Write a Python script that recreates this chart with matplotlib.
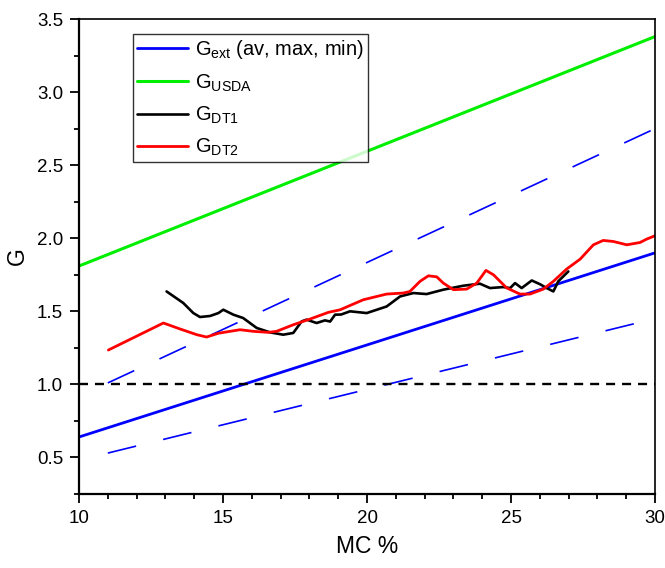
import matplotlib
matplotlib.use('Agg')
import matplotlib.pyplot as plt
from matplotlib.ticker import MultipleLocator

plt.rcParams['font.family'] = ['Liberation Sans', 'DejaVu Sans']
plt.rcParams['mathtext.fontset'] = 'custom'
plt.rcParams['mathtext.rm'] = 'Liberation Sans'
plt.rcParams['lines.scale_dashes'] = False
plt.rcParams['lines.solid_joinstyle'] = 'round'
plt.rcParams['lines.solid_capstyle'] = 'round'

# G_ext: average line and the max/min envelope
mc_ext = [10, 30]
g_ext_av = [0.64, 1.90]
mc_env = [11, 30]
g_ext_max = [1.01, 2.75]
g_ext_min = [0.53, 1.45]

# USDA line
mc_usda = [10, 30]
g_usda = [1.81, 3.38]

# reference level G = 1
mc_ref = [10, 30]
g_ref = [1.0, 1.0]

# DT1 curve
mc_dt1 = [13.04, 13.62, 13.97, 14.20, 14.55, 14.84, 15.01, 15.36, 15.70, 16.17,
          16.63, 17.09, 17.44, 17.73, 17.90, 18.25, 18.54, 18.72, 18.89, 19.10,
          19.41, 19.99, 20.68, 21.15, 21.61, 22.07, 22.65, 23.34, 23.92, 24.27,
          24.73, 24.97, 25.14, 25.37, 25.72, 26.01, 26.24, 26.47, 26.64, 26.99]
g_dt1 = [1.636, 1.557, 1.488, 1.461, 1.468, 1.488, 1.511, 1.477, 1.454, 1.386,
         1.356, 1.340, 1.352, 1.431, 1.443, 1.420, 1.438, 1.430, 1.477, 1.478,
         1.500, 1.488, 1.533, 1.602, 1.625, 1.618, 1.648, 1.675, 1.689, 1.659,
         1.666, 1.659, 1.693, 1.659, 1.711, 1.685, 1.659, 1.636, 1.705, 1.773]

# DT2 curve
mc_dt2 = [11.02, 12.93, 13.51, 14.09, 14.43, 14.84, 15.59, 16.05, 16.57, 16.86,
          17.44, 18.02, 18.66, 19.06, 19.87, 20.68, 21.26, 21.49, 21.84, 22.13,
          22.42, 22.65, 23.00, 23.46, 23.81, 24.13, 24.39, 24.85, 25.31, 25.66,
          26.12, 26.47, 26.93, 27.40, 27.86, 28.20, 28.55, 29.02, 29.48, 29.71,
          30.00]
g_dt2 = [1.235, 1.420, 1.379, 1.340, 1.324, 1.350, 1.374, 1.363, 1.356, 1.363,
         1.408, 1.447, 1.493, 1.510, 1.579, 1.618, 1.625, 1.636, 1.705, 1.743,
         1.736, 1.693, 1.648, 1.652, 1.693, 1.780, 1.750, 1.660, 1.618, 1.618,
         1.652, 1.705, 1.789, 1.857, 1.955, 1.985, 1.978, 1.955, 1.971, 1.994,
         2.017]

fig = plt.figure(figsize=(6.65, 5.68), dpi=100)
ax = fig.add_axes([0.1188, 0.1303, 0.8662, 0.8362])

long_dash = (21, 20)
ax.plot(mc_ext, g_ext_av, color='#0000ff', lw=2.0,
        label=r'G$_{\mathrm{ext}}$ (av, max, min)')
ax.plot(mc_env, g_ext_max, color='#0000ff', lw=1.2, dashes=long_dash)
ax.plot(mc_env, g_ext_min, color='#0000ff', lw=1.2, dashes=long_dash)
ax.plot(mc_usda, g_usda, color='#00ee00', lw=2.2, label=r'G$_{\mathrm{USDA}}$')
ax.plot(mc_dt1, g_dt1, color='black', lw=1.9, label=r'G$_{\mathrm{DT1}}$')
ax.plot(mc_dt2, g_dt2, color='#ff0000', lw=2.0, label=r'G$_{\mathrm{DT2}}$')
ax.plot(mc_ref, g_ref, color='black', lw=1.7, dashes=(6.5, 5))

ax.set_xlim(10, 30)
ax.set_ylim(0.25, 3.5)
ax.xaxis.set_major_locator(MultipleLocator(5))
ax.xaxis.set_minor_locator(MultipleLocator(1))
ax.yaxis.set_major_locator(MultipleLocator(0.5))
ax.yaxis.set_minor_locator(MultipleLocator(0.25))
ax.yaxis.set_major_formatter(plt.FormatStrFormatter('%.1f'))

ax.tick_params(which='both', direction='out', top=False, right=False,
               labelsize=13.5, width=1.3)
ax.tick_params(which='major', length=6.5, pad=5)
ax.tick_params(which='minor', length=3.5)
for side in ['left', 'bottom']:
    ax.spines[side].set_linewidth(1.6)
for side in ['top', 'right']:
    ax.spines[side].set_linewidth(1.2)

ax.set_xlabel('MC %', fontsize=16.5, labelpad=6)
ax.set_ylabel('G', fontsize=16.5, labelpad=6)

leg = ax.legend(loc='upper left', bbox_to_anchor=(0.094, 0.968), fontsize=14.5,
                frameon=True, fancybox=False, edgecolor='black',
                handlelength=2.5, handletextpad=0.35, labelspacing=0.55,
                borderpad=0.2, borderaxespad=0)
leg.get_frame().set_linewidth(1.0)

fig.savefig('out.png', dpi=100)
